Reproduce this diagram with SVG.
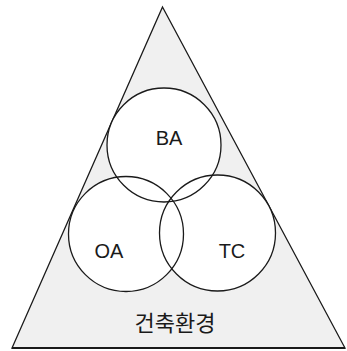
<svg xmlns="http://www.w3.org/2000/svg" width="347" height="351" viewBox="0 0 347 351">
<style>
.f{fill:#ffffff;stroke:none}
.o{fill:none;stroke:#1a1a1a;stroke-width:1.3}
.t{font-family:"Liberation Sans",Arial,sans-serif;font-size:20px;fill:#1a1a1a;text-anchor:middle}
.k{font-family:"Noto Sans CJK KR","Noto Sans",sans-serif;font-size:22px;fill:#1a1a1a;text-anchor:middle}
</style>
<rect width="347" height="351" fill="#ffffff"/>
<g id="env">
<polygon points="162.5,7 345,348 12,348" fill="#f0f0f0" stroke="#1a1a1a" stroke-width="1.3"/>
<line x1="12" y1="348" x2="345" y2="348" stroke="#1a1a1a" stroke-width="2"/>
<text class="k" x="175" y="331">건축환경</text>
</g>
<g id="fills">
<circle class="f" cx="126" cy="234" r="57.5"/>
<circle class="f" cx="217.5" cy="233" r="58"/>
<circle class="f" cx="164" cy="145" r="57"/>
</g>
<g id="oa">
<circle class="o" cx="126" cy="234" r="57.5"/>
<text class="t" x="109" y="258">OA</text>
</g>
<g id="tc">
<circle class="o" cx="217.5" cy="233" r="58"/>
<text class="t" x="232" y="258">TC</text>
</g>
<g id="ba">
<circle class="o" cx="164" cy="145" r="57"/>
<text class="t" x="169" y="145">BA</text>
</g>
</svg>
